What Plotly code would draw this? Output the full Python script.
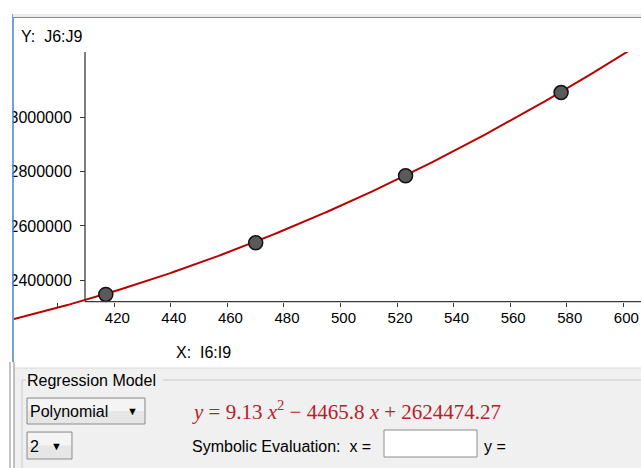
import numpy as np
import plotly.graph_objects as go

# ---- data ----
x_vals = [417, 470, 523, 578]
y_vals = [2348000, 2538000, 2785000, 3091000]
# regression model shown in the panel: y = a x^2 + b x + c
coef_a = 9.13
coef_b = -4465.8
coef_c = 2624474.27
x_tick_vals = [400, 420, 440, 460, 480, 500, 520, 540, 560, 580, 600]
x_tick_text = ["", "420", "440", "460", "480", "500", "520", "540", "560", "580", "600"]
y_tick_vals = [2400000, 2600000, 2800000, 3000000]
y_tick_text = ["2400000", "2600000", "2800000", "3000000"]

W, H = 641, 468
def px(x):
    return x / W
def py(y):
    return 1 - y / H

X_RANGE = [384.53, 606.26]
Y_RANGE = [2077178, 3240368]

xc = np.linspace(X_RANGE[0], X_RANGE[1], 400)
yc = coef_a * xc**2 + coef_b * xc + coef_c

fig = go.Figure()
fig.add_trace(go.Scatter(x=xc, y=yc, mode="lines",
                         line=dict(color="#bb0000", width=2), hoverinfo="skip"))
fig.add_trace(go.Scatter(x=x_vals, y=y_vals, mode="markers",
                         marker=dict(size=14, color="#5a5a5a",
                                     line=dict(color="#111111", width=1.5)),
                         cliponaxis=False))

FONT = "Liberation Sans"
shapes = []
# bottom grey panel
shapes.append(dict(type="rect", xref="paper", yref="paper", x0=px(14), x1=1, y0=0, y1=py(368),
                   fillcolor="#f0f0f0", line=dict(width=0), layer="above"))
shapes.append(dict(type="line", xref="paper", yref="paper", x0=px(14), x1=1, y0=py(368), y1=py(368),
                   line=dict(color="#d8d8d8", width=1), layer="above"))
# left white strip (clips tick labels) and borders
shapes.append(dict(type="rect", xref="paper", yref="paper", x0=0, x1=px(12.5), y0=0, y1=1,
                   fillcolor="#ffffff", line=dict(width=0), layer="above"))
shapes.append(dict(type="line", xref="paper", yref="paper", x0=px(13), x1=px(13), y0=py(362), y1=py(14),
                   line=dict(color="#4a7fd0", width=1.5), layer="above"))
shapes.append(dict(type="line", xref="paper", yref="paper", x0=px(10), x1=px(10), y0=0, y1=py(362),
                   line=dict(color="#8a8a8a", width=1), layer="above"))
shapes.append(dict(type="line", xref="paper", yref="paper", x0=px(14), x1=px(14), y0=0, y1=py(362),
                   line=dict(color="#8a8a8a", width=1), layer="above"))
# top border
shapes.append(dict(type="rect", xref="paper", yref="paper", x0=px(13), x1=1, y0=py(18), y1=py(14),
                   fillcolor="#ececec", line=dict(width=0), layer="above"))
shapes.append(dict(type="line", xref="paper", yref="paper", x0=px(13), x1=1, y0=py(17.5), y1=py(17.5),
                   line=dict(color="#8a8a8a", width=1.2), layer="above"))
# axis lines
shapes.append(dict(type="line", xref="paper", yref="paper", x0=px(85), x1=1, y0=py(301.7), y1=py(301.7),
                   line=dict(color="#3a3a3a", width=1.3), layer="above"))
shapes.append(dict(type="line", xref="paper", yref="paper", x0=px(85), x1=px(85), y0=py(301.7), y1=py(52),
                   line=dict(color="#3a3a3a", width=1.3), layer="above"))
# group box "Regression Model"
shapes.append(dict(type="line", xref="paper", yref="paper", x0=px(163), x1=1, y0=py(380), y1=py(380),
                   line=dict(color="#c8c8c8", width=1), layer="above"))
shapes.append(dict(type="line", xref="paper", yref="paper", x0=px(22), x1=px(26), y0=py(380), y1=py(380),
                   line=dict(color="#c8c8c8", width=1), layer="above"))
shapes.append(dict(type="line", xref="paper", yref="paper", x0=px(22), x1=px(22), y0=0, y1=py(380),
                   line=dict(color="#c8c8c8", width=1), layer="above"))
# dropdowns
for (x0, x1, y0, y1) in [(27, 145, 398, 424), (27, 72, 432, 459)]:
    shapes.append(dict(type="rect", xref="paper", yref="paper", x0=px(x0), x1=px(x1), y0=py(y1), y1=py(y0),
                       fillcolor="#e6e6e6", line=dict(color="#8c8c8c", width=1), layer="above"))
    shapes.append(dict(type="rect", xref="paper", yref="paper", x0=px(x0 + 1), x1=px(x1 - 1),
                       y0=py((y0 + y1) / 2), y1=py(y0 + 1),
                       fillcolor="#f4f4f4", line=dict(width=0), layer="above"))
# input box
shapes.append(dict(type="rect", xref="paper", yref="paper", x0=px(384), x1=px(477), y0=py(457), y1=py(430),
                   fillcolor="#ffffff", line=dict(color="#8c8c8c", width=1), layer="above"))

def ann(text, x, y, size=16, color="#000000", family=FONT, xanchor="left"):
    return dict(text=text, xref="paper", yref="paper", x=px(x), y=py(y), xanchor=xanchor, yanchor="middle",
                showarrow=False, borderpad=0, font=dict(family=family, size=size, color=color))

annotations = [
    ann("Y:  J6:J9", 20, 37),
    ann("X:  I6:I9", 175, 352),
    ann("Regression Model", 26, 380),
    ann("Polynomial", 29, 411),
    ann("▼", 126, 411, size=11),
    ann("2", 29, 446),
    ann("▼", 50, 446, size=11),
    ann("<i>y</i> = 9.13 <i>x</i><sup>2</sup> − 4465.8 <i>x</i> + 2624474.27", 191, 410,
        size=21, color="#b5202a", family="Liberation Serif"),
    ann("Symbolic Evaluation:  x =", 191, 446),
    ann("y =", 483, 446),
]

fig.update_layout(
    width=W, height=H, margin=dict(l=0, r=0, t=0, b=0),
    paper_bgcolor="#ffffff", plot_bgcolor="#ffffff", showlegend=False,
    shapes=shapes, annotations=annotations,
    xaxis=dict(domain=[px(14), 1], range=X_RANGE, anchor="free", position=py(301.7),
               showline=False, showgrid=False, zeroline=False,
               tickmode="array", tickvals=x_tick_vals, ticktext=x_tick_text,
               ticks="outside", ticklen=4, tickwidth=1.2, tickcolor="#3a3a3a",
               ticklabelstandoff=-2,
               tickfont=dict(family=FONT, size=15, color="#000000"), ticklabelshift=3),
    yaxis=dict(domain=[py(368), py(52)], range=Y_RANGE, anchor="free", position=px(85),
               showline=False, showgrid=False, zeroline=False,
               tickmode="array", tickvals=y_tick_vals, ticktext=y_tick_text,
               ticks="outside", ticklen=5, tickwidth=1.2, tickcolor="#3a3a3a",
               ticklabelstandoff=5,
               tickfont=dict(family=FONT, size=16, color="#000000")),
)

fig.write_html("out.html", config={"displayModeBar": False},
               post_script="document.body.style.margin='0';document.body.style.overflow='hidden';")
